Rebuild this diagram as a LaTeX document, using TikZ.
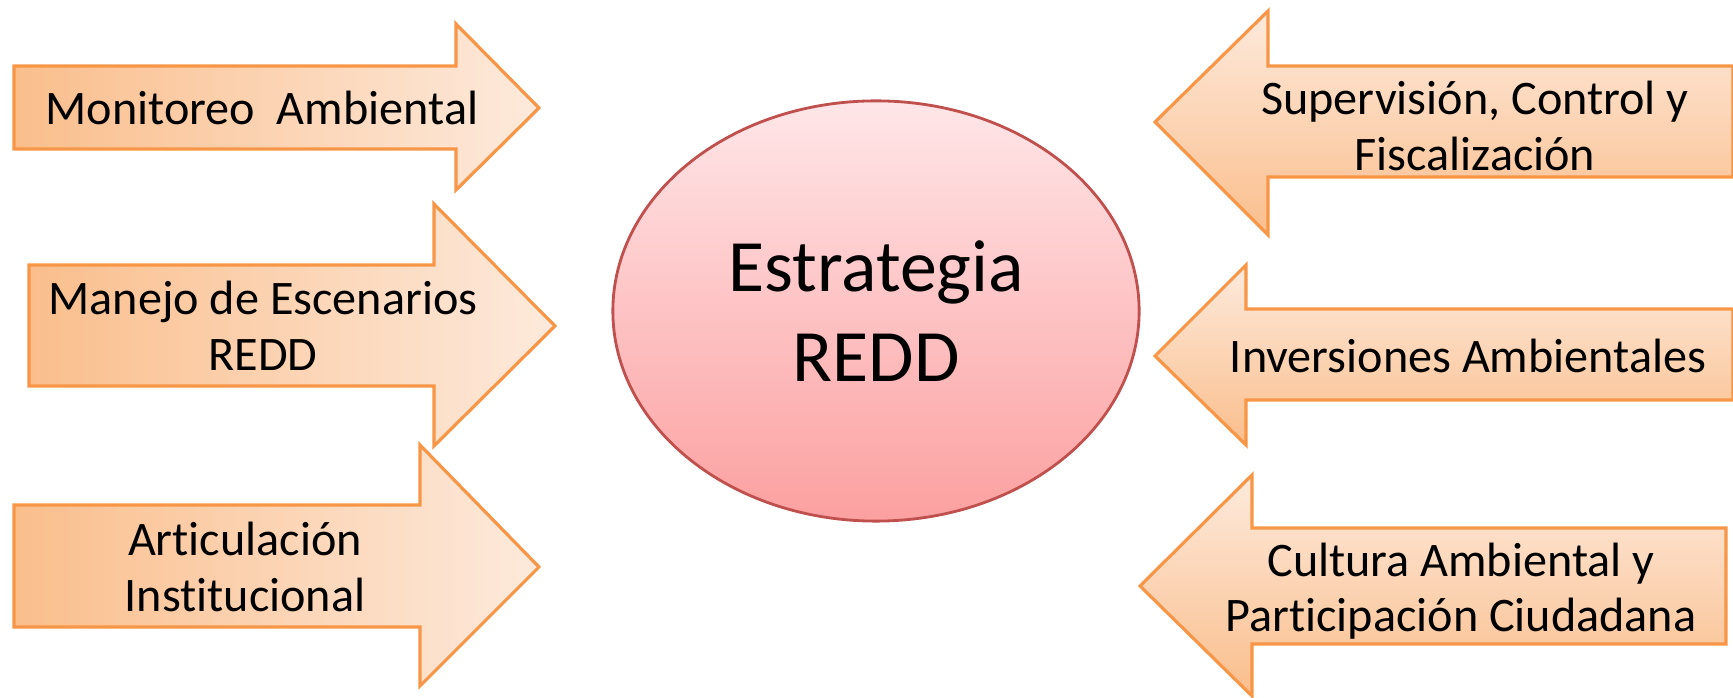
\documentclass[tikz,border=0pt]{standalone}
\usepackage{fontspec}
\setmainfont{Carlito}[RawFeature=-liga]
\usetikzlibrary{shapes.geometric}
\definecolor{arrowline}{RGB}{247,150,70}
\definecolor{arrowdark}{RGB}{250,190,140}
\definecolor{arrowlight}{RGB}{253,234,220}
\definecolor{redline}{RGB}{192,80,77}
\definecolor{redtop}{RGB}{255,230,232}
\definecolor{redbottom}{RGB}{252,160,160}
\begin{document}
\begin{tikzpicture}[x=0.01cm, y=-0.01cm,
    toarrow/.style = {draw=arrowline, line width=0.9pt, left color=arrowdark, right color=arrowlight},
    fromarrow/.style = {draw=arrowline, line width=0.9pt, top color=arrowlight, bottom color=arrowdark},
    boxtext/.style = {align=center, font=\fontsize{13.7}{15.8}\selectfont},
    main/.style = {draw=redline, line width=0.8pt, ellipse, top color=redtop, bottom color=redbottom,
                   minimum width=5.26cm, minimum height=4.2cm, align=center, font=\fontsize{21}{25.5}\selectfont}]
    \useasboundingbox (0,0) rectangle (1733,698);
    % arrows pointing to the centre
    \path[toarrow] (14,66) -- (456,66) -- (456,24) -- (539,108) -- (456,190) -- (456,149) -- (14,149) -- cycle;
    \path[toarrow] (29,265) -- (434,265) -- (434,204) -- (555,326) -- (434,446) -- (434,386) -- (29,386) -- cycle;
    \path[toarrow] (14,505) -- (420,505) -- (420,445) -- (539,567) -- (420,686) -- (420,627) -- (14,627) -- cycle;
    % arrows pointing away
    \path[fromarrow] (1733,66) -- (1268,66) -- (1268,11) -- (1155,122) -- (1268,235) -- (1268,177) -- (1733,177) -- cycle;
    \path[fromarrow] (1733,309) -- (1246,309) -- (1246,265) -- (1155,356) -- (1246,445) -- (1246,400) -- (1733,400) -- cycle;
    \path[fromarrow] (1726,528) -- (1252,528) -- (1252,475) -- (1140,586) -- (1252,696) -- (1252,644) -- (1726,644) -- cycle;
    \node[main] (redd) at (876,311) {Estrategia\\REDD};
    \node[boxtext] (monitoreo) at (262,108) {Monitoreo\ \ Ambiental};
    \node[boxtext] (manejo) at (263,326) {Manejo de Escenarios\\REDD};
    \node[boxtext] (articulacion) at (245,567) {Articulación\\Institucional};
    \node[boxtext] (supervision) at (1475,126) {Supervisión, Control y\\Fiscalización};
    \node[boxtext] (inversiones) at (1468,356) {Inversiones Ambientales};
    \node[boxtext] (cultura) at (1461,591) {Cultura Ambiental y\\Participación Ciudadana};
\end{tikzpicture}
\end{document}
